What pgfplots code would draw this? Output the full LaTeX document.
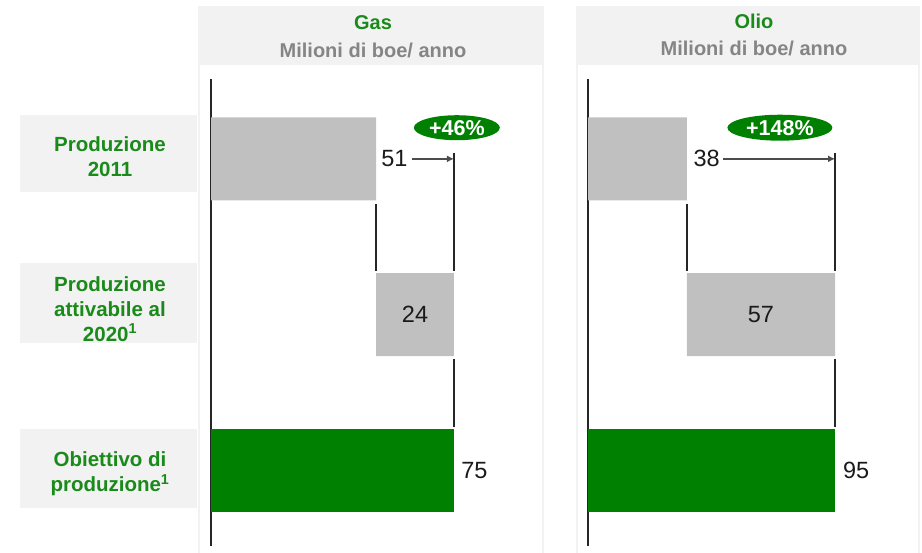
\documentclass[border=0pt]{standalone}
\usepackage{pgfplots}
\pgfplotsset{compat=1.18}
\usepackage{fontspec}
\setmainfont{Liberation Sans}
\usetikzlibrary{shapes.geometric,arrows.meta}
\definecolor{boxgray}{HTML}{F2F2F2}
\definecolor{bargray}{HTML}{C0C0C0}
\definecolor{bargreen}{HTML}{008000}
\definecolor{labelgreen}{HTML}{1A8A1A}
\definecolor{headgray}{HTML}{858585}
\definecolor{valtext}{HTML}{1A1A1A}
\definecolor{linecol}{HTML}{262626}
\begin{document}
\begin{tikzpicture}[x=1pt,y=1pt]
\path[use as bounding box] (0,0) rectangle (922,553);
% row label boxes
\fill[boxgray] (20,361) rectangle (197,438);
\fill[boxgray] (20,210) rectangle (197,290);
\fill[boxgray] (20,45) rectangle (197,124);
% panel headers and borders
\fill[boxgray] (198,488) rectangle (544,547);
\fill[boxgray] (576,488) rectangle (920,547);
\draw[boxgray, line width=2pt] (199,0)--(199,488) (543,0)--(543,488) (577,0)--(577,488) (919,0)--(919,488);
% row labels
\tikzset{rowlab/.style={align=center, font=\fontsize{20.5}{25}\selectfont\bfseries, text=labelgreen, inner sep=0pt}}
\node[rowlab] at (110,396) {Produzione\\2011};
\node[rowlab] at (110,244) {Produzione\\attivabile al\\2020\textsuperscript{1}};
\node[rowlab] at (110,79) {Obiettivo di\\produzione\textsuperscript{1}};
% headers
\tikzset{headA/.style={font=\fontsize{20}{24}\selectfont\bfseries, text=labelgreen, inner sep=0pt},
         headB/.style={font=\fontsize{20}{24}\selectfont\bfseries, text=headgray, inner sep=0pt}}
\node[headA] at (373,530) {Gas};
\node[headB] at (373,503) {Milioni di boe/ anno};
\node[headA] at (754,532) {Olio};
\node[headB] at (754,505) {Milioni di boe/ anno};
\tikzset{val/.style={font=\fontsize{23.5}{27}\selectfont, text=valtext, inner sep=0pt},
         pct/.style={ellipse, fill=bargreen, inner sep=0pt, text=white, font=\fontsize{21.5}{24}\selectfont\bfseries},
         conn/.style={line width=1.6pt, linecol},
         arr/.style={-{Latex[length=7pt,width=7pt]}, line width=2.6pt, black!70}}
% ---------------- Gas ----------------
\begin{axis}[at={(211pt,7pt)}, anchor=south west, scale only axis,
  width=332pt, height=467pt, xmin=0, xmax=102.5, ymin=0.513, ymax=3.513,
  axis x line=none, axis y line*=left, ytick=\empty, xtick=\empty,
  axis line style={line width=1.6pt, linecol},
  xbar stacked, bar width=83pt, clip=false]
\addplot[draw=none, fill=none] coordinates {(0,3) (51,2) (0,1)};
\addplot[draw=none, fill=bargray] coordinates {(51,3) (24,2) (0,1)};
\addplot[draw=none, fill=bargreen] coordinates {(0,3) (0,2) (75,1)};
\draw[conn] (axis cs:51,2.71) -- (axis cs:51,2.28);
\draw[conn] (axis cs:75,3.04) -- (axis cs:75,2.28);
\draw[conn] (axis cs:75,1.716) -- (axis cs:75,1.278);
\draw[arr] (axis cs:62,3.0) -- (axis cs:75,3.0);
\coordinate (g51) at (axis cs:52.5,3.0);
\coordinate (g24) at (axis cs:63,2);
\coordinate (g75) at (axis cs:77.2,1);
\coordinate (gpct) at (axis cs:75.9,3.2);
\end{axis}
\node[val, anchor=west] at (g51) {51};
\node[val] at (g24) {24};
\node[val, anchor=west] at (g75) {75};
\node[pct, minimum width=86pt, minimum height=25pt] at (gpct) {+46\%};
% ---------------- Olio ----------------
\begin{axis}[at={(588pt,7pt)}, anchor=south west, scale only axis,
  width=331pt, height=467pt, xmin=0, xmax=127.3, ymin=0.513, ymax=3.513,
  axis x line=none, axis y line*=left, ytick=\empty, xtick=\empty,
  axis line style={line width=1.6pt, linecol},
  xbar stacked, bar width=83pt, clip=false]
\addplot[draw=none, fill=none] coordinates {(0,3) (38,2) (0,1)};
\addplot[draw=none, fill=bargray] coordinates {(38,3) (57,2) (0,1)};
\addplot[draw=none, fill=bargreen] coordinates {(0,3) (0,2) (95,1)};
\draw[conn] (axis cs:38,2.71) -- (axis cs:38,2.28);
\draw[conn] (axis cs:95,3.04) -- (axis cs:95,2.28);
\draw[conn] (axis cs:95,1.716) -- (axis cs:95,1.278);
\draw[arr] (axis cs:52,3.0) -- (axis cs:95,3.0);
\coordinate (o38) at (axis cs:40.5,3.0);
\coordinate (o57) at (axis cs:66.5,2);
\coordinate (o95) at (axis cs:98,1);
\coordinate (opct) at (axis cs:73.8,3.2);
\end{axis}
\node[val, anchor=west] at (o38) {38};
\node[val] at (o57) {57};
\node[val, anchor=west] at (o95) {95};
\node[pct, minimum width=105pt, minimum height=26pt] at (opct) {+148\%};
\end{tikzpicture}
\end{document}
